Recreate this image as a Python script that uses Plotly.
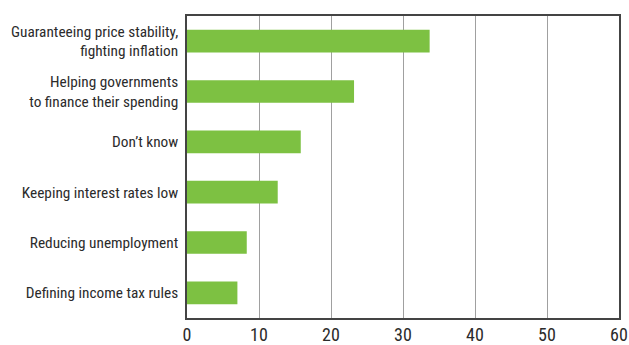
import plotly.graph_objects as go

# Survey responses: share of respondents (%) per central bank goal
categories = [
    "Guaranteeing price stability,<br>fighting inflation",
    "Helping governments<br>to finance their spending",
    "Don’t know",
    "Keeping interest rates low",
    "Reducing unemployment",
    "Defining income tax rules",
]
values = [33.7, 23.2, 15.8, 12.6, 8.3, 7.0]
x_ticks = [0, 10, 20, 30, 40, 50, 60]

FONT = "Roboto Condensed, DejaVu Sans Condensed, sans-serif"
TEXT = "#2b2b2b"

fig = go.Figure(
    go.Bar(
        x=values,
        y=categories,
        orientation="h",
        width=0.45,
        marker=dict(color="#7DC142", line=dict(width=0)),
    )
)

fig.update_layout(
    width=629,
    height=345,
    margin=dict(l=187, r=10, t=16, b=27),
    paper_bgcolor="white",
    plot_bgcolor="white",
    showlegend=False,
    font=dict(family=FONT, size=15.3, color=TEXT),
)

fig.update_xaxes(
    range=[0, 60],
    tickvals=x_ticks,
    ticktext=[str(t) for t in x_ticks],
    showgrid=True,
    gridcolor="#a0a0a0",
    gridwidth=1,
    zeroline=False,
    showline=True,
    linecolor="#444444",
    linewidth=1.5,
    mirror=True,
    ticks="",
    automargin=False,
    tickfont=dict(family=FONT, size=18, color=TEXT),
    fixedrange=True,
)

fig.update_yaxes(
    categoryorder="array",
    categoryarray=categories[::-1],
    showgrid=False,
    zeroline=False,
    showline=True,
    linecolor="#444444",
    linewidth=1.5,
    mirror=True,
    ticks="",
    automargin=False,
    ticklabelstandoff=4,
    tickfont=dict(family=FONT, size=15.3, color=TEXT),
    fixedrange=True,
)

fig.write_html("out.html")
